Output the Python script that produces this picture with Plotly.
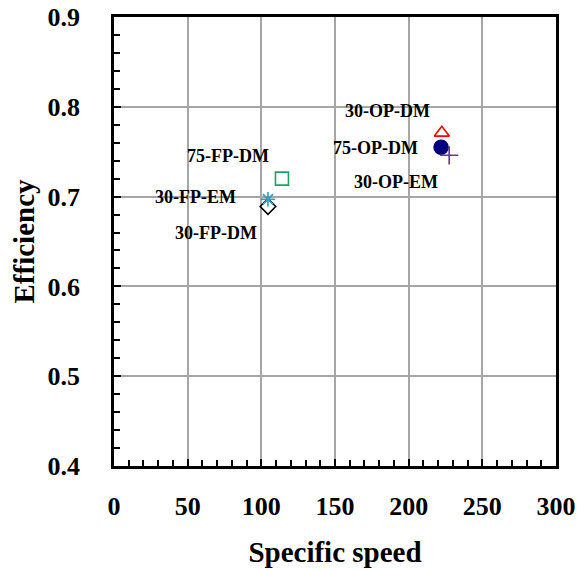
import plotly.graph_objects as go

names = ["30-FP-DM", "30-FP-EM", "75-FP-DM", "30-OP-DM", "75-OP-DM", "30-OP-EM"]
speed = [104.5, 104.5, 114, 222.5, 222, 227.5]
eff = [0.689, 0.697, 0.720, 0.771, 0.755, 0.746]
symbols = ["diamond-open", "asterisk-open", "square-open", "triangle-up-open", "circle", "cross-thin-open"]
colors = ["#000000", "#3a9bb5", "#1aa566", "#ff0000", "#00007f", "#7030a0"]
sizes = [12, 12, 13, 13, 14, 13]
# label anchor positions (data coords)
label_x = [69.2, 55, 77.4, 185.3, 177.8, 191.7]
label_y = [0.659, 0.700, 0.745, 0.795, 0.754, 0.716]

fig = go.Figure()
for i, n in enumerate(names):
    fig.add_trace(go.Scatter(
        x=[speed[i]], y=[eff[i]], mode="markers", name=n,
        marker=dict(symbol=symbols[i], color=colors[i], size=sizes[i],
                    line=dict(color=colors[i], width=1.6)),
        showlegend=False))
    fig.add_annotation(x=label_x[i], y=label_y[i], text="<b>" + n + "</b>", showarrow=False,
                       font=dict(family="Liberation Serif", size=18, color="black"),
                       xanchor="center", yanchor="middle")

font = dict(family="Liberation Serif", size=26, color="black", weight="bold")
title_font = dict(family="Liberation Serif", size=29, color="black", weight="bold")
fig.update_layout(
    width=586, height=570,
    margin=dict(l=114, r=30, t=17, b=104),
    paper_bgcolor="white", plot_bgcolor="white",
    font=dict(family="Liberation Serif", color="black"),
    xaxis=dict(range=[0, 300], dtick=50, showgrid=True, gridcolor="#a6a6a6", gridwidth=1.5,
               showline=True, linecolor="black", linewidth=2.5, mirror=True,
               ticks="inside", ticklen=7, tickwidth=1.5, tickcolor="black",
               minor=dict(ticks="inside", dtick=10, ticklen=6, tickwidth=1.5, tickcolor="black", showgrid=False),
               tickfont=font, ticklabelstandoff=15, zeroline=False, automargin=False,
               title=dict(text="Specific speed", font=title_font, standoff=22)),
    yaxis=dict(range=[0.4, 0.9], dtick=0.1, tickformat=".1f", showgrid=True, gridcolor="#a6a6a6", gridwidth=1.5,
               showline=True, linecolor="black", linewidth=2.5, mirror=True,
               ticks="inside", ticklen=7, tickwidth=1.5, tickcolor="black",
               minor=dict(ticks="inside", dtick=0.02, ticklen=6, tickwidth=1.5, tickcolor="black", showgrid=False),
               tickfont=font, ticklabelstandoff=26, zeroline=False, automargin=False,
               title=dict(text="Efficiency", font=title_font, standoff=5)),
)
fig.write_html("out.html")
